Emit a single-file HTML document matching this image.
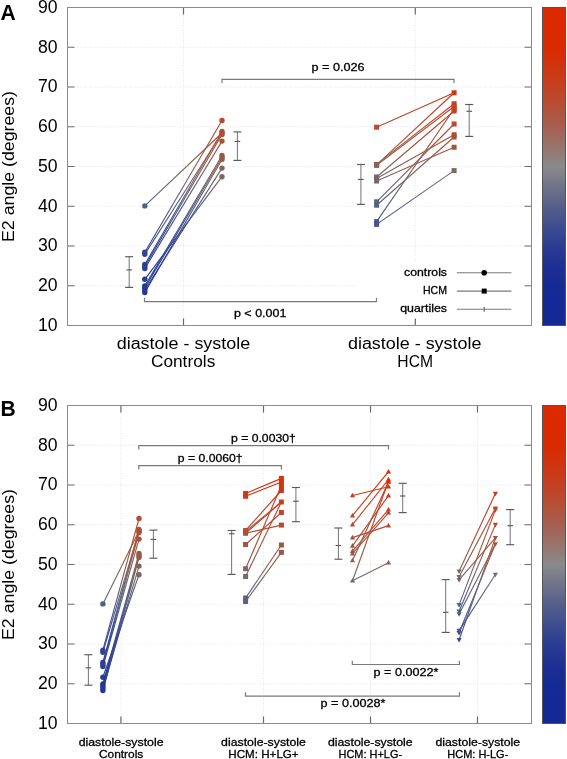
<!DOCTYPE html>
<html><head><meta charset="utf-8"><style>
html,body{margin:0;padding:0;background:#fff;}
body{width:567px;height:759px;overflow:hidden;}
svg{display:block;font-family:"Liberation Sans",sans-serif;}
.sm{stroke:#000;stroke-width:0.3px;paint-order:stroke;}
.wrap{will-change:transform;}
</style></head><body>
<div class="wrap"><svg width="567" height="759" viewBox="0 0 567 759">
<defs><linearGradient id="cb" x1="0" y1="0" x2="0" y2="1"><stop offset="0.000" stop-color="#dc2a00"/><stop offset="0.025" stop-color="#dc2a00"/><stop offset="0.050" stop-color="#db2a00"/><stop offset="0.075" stop-color="#db2a00"/><stop offset="0.100" stop-color="#da2a00"/><stop offset="0.125" stop-color="#da2a00"/><stop offset="0.150" stop-color="#d62e07"/><stop offset="0.175" stop-color="#d1330d"/><stop offset="0.200" stop-color="#cd3714"/><stop offset="0.225" stop-color="#c83c1c"/><stop offset="0.250" stop-color="#c34123"/><stop offset="0.275" stop-color="#bd472b"/><stop offset="0.300" stop-color="#b74d33"/><stop offset="0.325" stop-color="#b1533c"/><stop offset="0.350" stop-color="#ab5946"/><stop offset="0.375" stop-color="#a55f50"/><stop offset="0.400" stop-color="#a0675b"/><stop offset="0.425" stop-color="#9b7066"/><stop offset="0.450" stop-color="#957872"/><stop offset="0.475" stop-color="#90817e"/><stop offset="0.500" stop-color="#8a8a8a"/><stop offset="0.525" stop-color="#80818a"/><stop offset="0.550" stop-color="#75788a"/><stop offset="0.575" stop-color="#6b708a"/><stop offset="0.600" stop-color="#60678a"/><stop offset="0.625" stop-color="#555f8a"/><stop offset="0.650" stop-color="#4c588d"/><stop offset="0.675" stop-color="#435190"/><stop offset="0.700" stop-color="#3a4a91"/><stop offset="0.725" stop-color="#334392"/><stop offset="0.750" stop-color="#2c3c93"/><stop offset="0.775" stop-color="#263793"/><stop offset="0.800" stop-color="#213294"/><stop offset="0.825" stop-color="#1c2e94"/><stop offset="0.850" stop-color="#192c95"/><stop offset="0.875" stop-color="#162a96"/><stop offset="0.900" stop-color="#162a96"/><stop offset="0.925" stop-color="#152996"/><stop offset="0.950" stop-color="#152996"/><stop offset="0.975" stop-color="#142896"/><stop offset="1.000" stop-color="#142896"/></linearGradient><linearGradient id="g1" gradientUnits="userSpaceOnUse" x1="144.80" y1="205.90" x2="222.00" y2="133.00"><stop offset="0.000" stop-color="#585f80"/><stop offset="0.167" stop-color="#656578"/><stop offset="0.333" stop-color="#73686f"/><stop offset="0.500" stop-color="#85645f"/><stop offset="0.667" stop-color="#955a4c"/><stop offset="0.833" stop-color="#a3533f"/><stop offset="1.000" stop-color="#b04e37"/></linearGradient><linearGradient id="g2" gradientUnits="userSpaceOnUse" x1="144.80" y1="252.20" x2="222.00" y2="120.50"><stop offset="0.000" stop-color="#354492"/><stop offset="0.167" stop-color="#44508c"/><stop offset="0.333" stop-color="#565e81"/><stop offset="0.500" stop-color="#6c6873"/><stop offset="0.667" stop-color="#8c6057"/><stop offset="0.833" stop-color="#a6523c"/><stop offset="1.000" stop-color="#ba4830"/></linearGradient><linearGradient id="g3" gradientUnits="userSpaceOnUse" x1="144.80" y1="254.20" x2="222.00" y2="133.00"><stop offset="0.000" stop-color="#344392"/><stop offset="0.167" stop-color="#414e8d"/><stop offset="0.333" stop-color="#525a84"/><stop offset="0.500" stop-color="#656578"/><stop offset="0.667" stop-color="#7f6665"/><stop offset="0.833" stop-color="#9a5747"/><stop offset="1.000" stop-color="#b04e37"/></linearGradient><linearGradient id="g4" gradientUnits="userSpaceOnUse" x1="144.80" y1="264.50" x2="222.00" y2="131.50"><stop offset="0.000" stop-color="#2f3f94"/><stop offset="0.167" stop-color="#3b4890"/><stop offset="0.333" stop-color="#4c5687"/><stop offset="0.500" stop-color="#60637b"/><stop offset="0.667" stop-color="#7b6869"/><stop offset="0.833" stop-color="#995847"/><stop offset="1.000" stop-color="#b14d36"/></linearGradient><linearGradient id="g5" gradientUnits="userSpaceOnUse" x1="144.80" y1="266.50" x2="222.00" y2="134.50"><stop offset="0.000" stop-color="#2e3f94"/><stop offset="0.167" stop-color="#394791"/><stop offset="0.333" stop-color="#4a5588"/><stop offset="0.500" stop-color="#5e627c"/><stop offset="0.667" stop-color="#77686c"/><stop offset="0.833" stop-color="#965a4b"/><stop offset="1.000" stop-color="#ae4e38"/></linearGradient><linearGradient id="g6" gradientUnits="userSpaceOnUse" x1="144.80" y1="268.50" x2="222.00" y2="141.10"><stop offset="0.000" stop-color="#2d3e94"/><stop offset="0.167" stop-color="#374691"/><stop offset="0.333" stop-color="#47538a"/><stop offset="0.500" stop-color="#59607f"/><stop offset="0.667" stop-color="#706870"/><stop offset="0.833" stop-color="#8f5f54"/><stop offset="1.000" stop-color="#a8513b"/></linearGradient><linearGradient id="g7" gradientUnits="userSpaceOnUse" x1="144.80" y1="279.30" x2="222.00" y2="176.70"><stop offset="0.000" stop-color="#293a95"/><stop offset="0.167" stop-color="#304093"/><stop offset="0.333" stop-color="#394791"/><stop offset="0.500" stop-color="#46518b"/><stop offset="0.667" stop-color="#545c82"/><stop offset="0.833" stop-color="#656578"/><stop offset="1.000" stop-color="#7a686a"/></linearGradient><linearGradient id="g8" gradientUnits="userSpaceOnUse" x1="144.80" y1="286.00" x2="222.00" y2="155.50"><stop offset="0.000" stop-color="#263896"/><stop offset="0.167" stop-color="#2f4094"/><stop offset="0.333" stop-color="#3b4890"/><stop offset="0.500" stop-color="#4c5687"/><stop offset="0.667" stop-color="#5f627b"/><stop offset="0.833" stop-color="#79686b"/><stop offset="1.000" stop-color="#975949"/></linearGradient><linearGradient id="g9" gradientUnits="userSpaceOnUse" x1="144.80" y1="288.00" x2="222.00" y2="157.50"><stop offset="0.000" stop-color="#263896"/><stop offset="0.167" stop-color="#2e3f94"/><stop offset="0.333" stop-color="#394791"/><stop offset="0.500" stop-color="#4a5588"/><stop offset="0.667" stop-color="#5d617d"/><stop offset="0.833" stop-color="#76686d"/><stop offset="1.000" stop-color="#955a4c"/></linearGradient><linearGradient id="g10" gradientUnits="userSpaceOnUse" x1="144.80" y1="290.00" x2="222.00" y2="168.10"><stop offset="0.000" stop-color="#263896"/><stop offset="0.167" stop-color="#2c3e94"/><stop offset="0.333" stop-color="#364592"/><stop offset="0.500" stop-color="#45518b"/><stop offset="0.667" stop-color="#565d81"/><stop offset="0.833" stop-color="#6a6774"/><stop offset="1.000" stop-color="#87635d"/></linearGradient><linearGradient id="g11" gradientUnits="userSpaceOnUse" x1="144.80" y1="292.50" x2="222.00" y2="159.50"><stop offset="0.000" stop-color="#263896"/><stop offset="0.167" stop-color="#2c3d94"/><stop offset="0.333" stop-color="#374591"/><stop offset="0.500" stop-color="#47538a"/><stop offset="0.667" stop-color="#5a607e"/><stop offset="0.833" stop-color="#73686f"/><stop offset="1.000" stop-color="#925c4f"/></linearGradient><linearGradient id="g12" gradientUnits="userSpaceOnUse" x1="376.60" y1="127.20" x2="454.10" y2="92.75"><stop offset="0.000" stop-color="#b64b34"/><stop offset="0.167" stop-color="#ba4830"/><stop offset="0.333" stop-color="#be452c"/><stop offset="0.500" stop-color="#c24228"/><stop offset="0.667" stop-color="#c63e24"/><stop offset="0.833" stop-color="#ca3b1e"/><stop offset="1.000" stop-color="#ce3719"/></linearGradient><linearGradient id="g13" gradientUnits="userSpaceOnUse" x1="376.60" y1="164.90" x2="454.10" y2="92.75"><stop offset="0.000" stop-color="#8c6158"/><stop offset="0.167" stop-color="#9a5746"/><stop offset="0.333" stop-color="#a8513b"/><stop offset="0.500" stop-color="#b44c35"/><stop offset="0.667" stop-color="#bd452d"/><stop offset="0.833" stop-color="#c53f24"/><stop offset="1.000" stop-color="#ce3719"/></linearGradient><linearGradient id="g14" gradientUnits="userSpaceOnUse" x1="376.60" y1="164.40" x2="454.10" y2="103.75"><stop offset="0.000" stop-color="#8c6057"/><stop offset="0.167" stop-color="#985848"/><stop offset="0.333" stop-color="#a4533e"/><stop offset="0.500" stop-color="#af4e38"/><stop offset="0.667" stop-color="#b84932"/><stop offset="0.833" stop-color="#bf442b"/><stop offset="1.000" stop-color="#c63e23"/></linearGradient><linearGradient id="g15" gradientUnits="userSpaceOnUse" x1="376.60" y1="165.40" x2="454.10" y2="106.50"><stop offset="0.000" stop-color="#8b6158"/><stop offset="0.167" stop-color="#97594a"/><stop offset="0.333" stop-color="#a2543f"/><stop offset="0.500" stop-color="#ad4f39"/><stop offset="0.667" stop-color="#b64b34"/><stop offset="0.833" stop-color="#bd452d"/><stop offset="1.000" stop-color="#c44026"/></linearGradient><linearGradient id="g16" gradientUnits="userSpaceOnUse" x1="376.60" y1="177.00" x2="454.10" y2="111.00"><stop offset="0.000" stop-color="#79686b"/><stop offset="0.167" stop-color="#8b6259"/><stop offset="0.333" stop-color="#985849"/><stop offset="0.500" stop-color="#a4533d"/><stop offset="0.667" stop-color="#b04e37"/><stop offset="0.833" stop-color="#b94831"/><stop offset="1.000" stop-color="#c14229"/></linearGradient><linearGradient id="g17" gradientUnits="userSpaceOnUse" x1="376.60" y1="178.50" x2="454.10" y2="134.75"><stop offset="0.000" stop-color="#77686c"/><stop offset="0.167" stop-color="#826562"/><stop offset="0.333" stop-color="#8d6056"/><stop offset="0.500" stop-color="#965a4b"/><stop offset="0.667" stop-color="#9e5543"/><stop offset="0.833" stop-color="#a7523c"/><stop offset="1.000" stop-color="#ae4f38"/></linearGradient><linearGradient id="g18" gradientUnits="userSpaceOnUse" x1="376.60" y1="181.00" x2="454.10" y2="147.25"><stop offset="0.000" stop-color="#74686e"/><stop offset="0.167" stop-color="#7c6768"/><stop offset="0.333" stop-color="#85645f"/><stop offset="0.500" stop-color="#8d6056"/><stop offset="0.667" stop-color="#935b4e"/><stop offset="0.833" stop-color="#9a5746"/><stop offset="1.000" stop-color="#a15441"/></linearGradient><linearGradient id="g19" gradientUnits="userSpaceOnUse" x1="376.60" y1="201.80" x2="454.10" y2="124.00"><stop offset="0.000" stop-color="#5c617d"/><stop offset="0.167" stop-color="#6a6775"/><stop offset="0.333" stop-color="#7b6869"/><stop offset="0.500" stop-color="#8e5f55"/><stop offset="0.667" stop-color="#9d5643"/><stop offset="0.833" stop-color="#ac4f39"/><stop offset="1.000" stop-color="#b84932"/></linearGradient><linearGradient id="g20" gradientUnits="userSpaceOnUse" x1="376.60" y1="205.20" x2="454.10" y2="137.00"><stop offset="0.000" stop-color="#595f7f"/><stop offset="0.167" stop-color="#646578"/><stop offset="0.333" stop-color="#72686f"/><stop offset="0.500" stop-color="#836561"/><stop offset="0.667" stop-color="#925c50"/><stop offset="0.833" stop-color="#9f5542"/><stop offset="1.000" stop-color="#ac5039"/></linearGradient><linearGradient id="g21" gradientUnits="userSpaceOnUse" x1="376.60" y1="221.60" x2="454.10" y2="109.00"><stop offset="0.000" stop-color="#4b5588"/><stop offset="0.167" stop-color="#5b617e"/><stop offset="0.333" stop-color="#6f6871"/><stop offset="0.500" stop-color="#8b6158"/><stop offset="0.667" stop-color="#a15440"/><stop offset="0.833" stop-color="#b54b35"/><stop offset="1.000" stop-color="#c34127"/></linearGradient><linearGradient id="g22" gradientUnits="userSpaceOnUse" x1="376.60" y1="224.40" x2="454.10" y2="170.60"><stop offset="0.000" stop-color="#495489"/><stop offset="0.167" stop-color="#505985"/><stop offset="0.333" stop-color="#585f80"/><stop offset="0.500" stop-color="#61637a"/><stop offset="0.667" stop-color="#6a6774"/><stop offset="0.833" stop-color="#76686d"/><stop offset="1.000" stop-color="#836461"/></linearGradient><linearGradient id="g23" gradientUnits="userSpaceOnUse" x1="102.90" y1="603.90" x2="139.00" y2="531.00"><stop offset="0.000" stop-color="#585f80"/><stop offset="0.167" stop-color="#656578"/><stop offset="0.333" stop-color="#73686f"/><stop offset="0.500" stop-color="#85645f"/><stop offset="0.667" stop-color="#955a4c"/><stop offset="0.833" stop-color="#a3533f"/><stop offset="1.000" stop-color="#b04e37"/></linearGradient><linearGradient id="g24" gradientUnits="userSpaceOnUse" x1="102.90" y1="650.20" x2="139.00" y2="518.50"><stop offset="0.000" stop-color="#354492"/><stop offset="0.167" stop-color="#44508c"/><stop offset="0.333" stop-color="#565e81"/><stop offset="0.500" stop-color="#6c6873"/><stop offset="0.667" stop-color="#8c6057"/><stop offset="0.833" stop-color="#a6523c"/><stop offset="1.000" stop-color="#ba4830"/></linearGradient><linearGradient id="g25" gradientUnits="userSpaceOnUse" x1="102.90" y1="652.20" x2="139.00" y2="531.00"><stop offset="0.000" stop-color="#344392"/><stop offset="0.167" stop-color="#414e8d"/><stop offset="0.333" stop-color="#525a84"/><stop offset="0.500" stop-color="#656578"/><stop offset="0.667" stop-color="#7f6665"/><stop offset="0.833" stop-color="#9a5747"/><stop offset="1.000" stop-color="#b04e37"/></linearGradient><linearGradient id="g26" gradientUnits="userSpaceOnUse" x1="102.90" y1="662.50" x2="139.00" y2="529.50"><stop offset="0.000" stop-color="#2f3f94"/><stop offset="0.167" stop-color="#3b4890"/><stop offset="0.333" stop-color="#4c5687"/><stop offset="0.500" stop-color="#60637b"/><stop offset="0.667" stop-color="#7b6869"/><stop offset="0.833" stop-color="#995847"/><stop offset="1.000" stop-color="#b14d36"/></linearGradient><linearGradient id="g27" gradientUnits="userSpaceOnUse" x1="102.90" y1="664.50" x2="139.00" y2="532.50"><stop offset="0.000" stop-color="#2e3f94"/><stop offset="0.167" stop-color="#394791"/><stop offset="0.333" stop-color="#4a5588"/><stop offset="0.500" stop-color="#5e627c"/><stop offset="0.667" stop-color="#77686c"/><stop offset="0.833" stop-color="#965a4b"/><stop offset="1.000" stop-color="#ae4e38"/></linearGradient><linearGradient id="g28" gradientUnits="userSpaceOnUse" x1="102.90" y1="666.50" x2="139.00" y2="539.10"><stop offset="0.000" stop-color="#2d3e94"/><stop offset="0.167" stop-color="#374691"/><stop offset="0.333" stop-color="#47538a"/><stop offset="0.500" stop-color="#59607f"/><stop offset="0.667" stop-color="#706870"/><stop offset="0.833" stop-color="#8f5f54"/><stop offset="1.000" stop-color="#a8513b"/></linearGradient><linearGradient id="g29" gradientUnits="userSpaceOnUse" x1="102.90" y1="677.30" x2="139.00" y2="574.70"><stop offset="0.000" stop-color="#293a95"/><stop offset="0.167" stop-color="#304093"/><stop offset="0.333" stop-color="#394791"/><stop offset="0.500" stop-color="#46518b"/><stop offset="0.667" stop-color="#545c82"/><stop offset="0.833" stop-color="#656578"/><stop offset="1.000" stop-color="#7a686a"/></linearGradient><linearGradient id="g30" gradientUnits="userSpaceOnUse" x1="102.90" y1="684.00" x2="139.00" y2="553.50"><stop offset="0.000" stop-color="#263896"/><stop offset="0.167" stop-color="#2f4094"/><stop offset="0.333" stop-color="#3b4890"/><stop offset="0.500" stop-color="#4c5687"/><stop offset="0.667" stop-color="#5f627b"/><stop offset="0.833" stop-color="#79686b"/><stop offset="1.000" stop-color="#975949"/></linearGradient><linearGradient id="g31" gradientUnits="userSpaceOnUse" x1="102.90" y1="686.00" x2="139.00" y2="555.50"><stop offset="0.000" stop-color="#263896"/><stop offset="0.167" stop-color="#2e3f94"/><stop offset="0.333" stop-color="#394791"/><stop offset="0.500" stop-color="#4a5588"/><stop offset="0.667" stop-color="#5d617d"/><stop offset="0.833" stop-color="#76686d"/><stop offset="1.000" stop-color="#955a4c"/></linearGradient><linearGradient id="g32" gradientUnits="userSpaceOnUse" x1="102.90" y1="688.00" x2="139.00" y2="566.10"><stop offset="0.000" stop-color="#263896"/><stop offset="0.167" stop-color="#2c3e94"/><stop offset="0.333" stop-color="#364592"/><stop offset="0.500" stop-color="#45518b"/><stop offset="0.667" stop-color="#565d81"/><stop offset="0.833" stop-color="#6a6774"/><stop offset="1.000" stop-color="#87635d"/></linearGradient><linearGradient id="g33" gradientUnits="userSpaceOnUse" x1="102.90" y1="690.50" x2="139.00" y2="557.50"><stop offset="0.000" stop-color="#263896"/><stop offset="0.167" stop-color="#2c3d94"/><stop offset="0.333" stop-color="#374591"/><stop offset="0.500" stop-color="#47538a"/><stop offset="0.667" stop-color="#5a607e"/><stop offset="0.833" stop-color="#73686f"/><stop offset="1.000" stop-color="#925c4f"/></linearGradient><linearGradient id="g34" gradientUnits="userSpaceOnUse" x1="245.60" y1="493.50" x2="281.40" y2="478.40"><stop offset="0.000" stop-color="#cc391c"/><stop offset="0.167" stop-color="#ce3819"/><stop offset="0.333" stop-color="#d03617"/><stop offset="0.500" stop-color="#d13515"/><stop offset="0.667" stop-color="#d33313"/><stop offset="0.833" stop-color="#d43211"/><stop offset="1.000" stop-color="#d5310f"/></linearGradient><linearGradient id="g35" gradientUnits="userSpaceOnUse" x1="245.60" y1="496.30" x2="281.40" y2="482.00"><stop offset="0.000" stop-color="#ca3b1e"/><stop offset="0.167" stop-color="#cc391c"/><stop offset="0.333" stop-color="#cd381a"/><stop offset="0.500" stop-color="#cf3718"/><stop offset="0.667" stop-color="#d13516"/><stop offset="0.833" stop-color="#d23414"/><stop offset="1.000" stop-color="#d33312"/></linearGradient><linearGradient id="g36" gradientUnits="userSpaceOnUse" x1="245.60" y1="530.50" x2="281.40" y2="490.50"><stop offset="0.000" stop-color="#b04e37"/><stop offset="0.167" stop-color="#b74a33"/><stop offset="0.333" stop-color="#bb472f"/><stop offset="0.500" stop-color="#c0432a"/><stop offset="0.667" stop-color="#c53f25"/><stop offset="0.833" stop-color="#c93b1f"/><stop offset="1.000" stop-color="#ce3719"/></linearGradient><linearGradient id="g37" gradientUnits="userSpaceOnUse" x1="245.60" y1="531.50" x2="281.40" y2="502.00"><stop offset="0.000" stop-color="#af4e37"/><stop offset="0.167" stop-color="#b44c35"/><stop offset="0.333" stop-color="#b84932"/><stop offset="0.500" stop-color="#bc472e"/><stop offset="0.667" stop-color="#bf442b"/><stop offset="0.833" stop-color="#c34127"/><stop offset="1.000" stop-color="#c63e23"/></linearGradient><linearGradient id="g38" gradientUnits="userSpaceOnUse" x1="245.60" y1="533.30" x2="281.40" y2="502.00"><stop offset="0.000" stop-color="#ad4f38"/><stop offset="0.167" stop-color="#b34c36"/><stop offset="0.333" stop-color="#b74a33"/><stop offset="0.500" stop-color="#bb472f"/><stop offset="0.667" stop-color="#bf442b"/><stop offset="0.833" stop-color="#c24128"/><stop offset="1.000" stop-color="#c63e23"/></linearGradient><linearGradient id="g39" gradientUnits="userSpaceOnUse" x1="245.60" y1="533.30" x2="281.40" y2="525.10"><stop offset="0.000" stop-color="#ad4f38"/><stop offset="0.167" stop-color="#af4e38"/><stop offset="0.333" stop-color="#b04e37"/><stop offset="0.500" stop-color="#b24d36"/><stop offset="0.667" stop-color="#b34c36"/><stop offset="0.833" stop-color="#b44c35"/><stop offset="1.000" stop-color="#b64b34"/></linearGradient><linearGradient id="g40" gradientUnits="userSpaceOnUse" x1="245.60" y1="544.50" x2="281.40" y2="512.50"><stop offset="0.000" stop-color="#a15440"/><stop offset="0.167" stop-color="#a7513b"/><stop offset="0.333" stop-color="#ad4f39"/><stop offset="0.500" stop-color="#b24d36"/><stop offset="0.667" stop-color="#b74a33"/><stop offset="0.833" stop-color="#bb472f"/><stop offset="1.000" stop-color="#bf442b"/></linearGradient><linearGradient id="g41" gradientUnits="userSpaceOnUse" x1="245.60" y1="568.70" x2="281.40" y2="485.50"><stop offset="0.000" stop-color="#836561"/><stop offset="0.167" stop-color="#955a4b"/><stop offset="0.333" stop-color="#a6523c"/><stop offset="0.500" stop-color="#b44c35"/><stop offset="0.667" stop-color="#be452c"/><stop offset="0.833" stop-color="#c83d21"/><stop offset="1.000" stop-color="#d23414"/></linearGradient><linearGradient id="g42" gradientUnits="userSpaceOnUse" x1="245.60" y1="576.50" x2="281.40" y2="502.00"><stop offset="0.000" stop-color="#77686c"/><stop offset="0.167" stop-color="#8a6259"/><stop offset="0.333" stop-color="#995847"/><stop offset="0.500" stop-color="#a7513b"/><stop offset="0.667" stop-color="#b44c35"/><stop offset="0.833" stop-color="#bd452d"/><stop offset="1.000" stop-color="#c63e23"/></linearGradient><linearGradient id="g43" gradientUnits="userSpaceOnUse" x1="245.60" y1="598.00" x2="281.40" y2="545.00"><stop offset="0.000" stop-color="#5e627c"/><stop offset="0.167" stop-color="#676676"/><stop offset="0.333" stop-color="#72686f"/><stop offset="0.500" stop-color="#7f6665"/><stop offset="0.667" stop-color="#8c6057"/><stop offset="0.833" stop-color="#97594a"/><stop offset="1.000" stop-color="#a15440"/></linearGradient><linearGradient id="g44" gradientUnits="userSpaceOnUse" x1="245.60" y1="601.50" x2="281.40" y2="552.40"><stop offset="0.000" stop-color="#5b607e"/><stop offset="0.167" stop-color="#636479"/><stop offset="0.333" stop-color="#6b6873"/><stop offset="0.500" stop-color="#76686c"/><stop offset="0.667" stop-color="#836561"/><stop offset="0.833" stop-color="#8f5f54"/><stop offset="1.000" stop-color="#985848"/></linearGradient><linearGradient id="g45" gradientUnits="userSpaceOnUse" x1="352.50" y1="495.50" x2="388.50" y2="486.80"><stop offset="0.000" stop-color="#cb3a1e"/><stop offset="0.167" stop-color="#cc391c"/><stop offset="0.333" stop-color="#cd391b"/><stop offset="0.500" stop-color="#ce381a"/><stop offset="0.667" stop-color="#cf3718"/><stop offset="0.833" stop-color="#d03617"/><stop offset="1.000" stop-color="#d13516"/></linearGradient><linearGradient id="g46" gradientUnits="userSpaceOnUse" x1="352.50" y1="515.60" x2="388.50" y2="471.70"><stop offset="0.000" stop-color="#bc462e"/><stop offset="0.167" stop-color="#c24228"/><stop offset="0.333" stop-color="#c73e22"/><stop offset="0.500" stop-color="#cc391c"/><stop offset="0.667" stop-color="#d13515"/><stop offset="0.833" stop-color="#d4320f"/><stop offset="1.000" stop-color="#d72f0a"/></linearGradient><linearGradient id="g47" gradientUnits="userSpaceOnUse" x1="352.50" y1="524.60" x2="388.50" y2="479.50"><stop offset="0.000" stop-color="#b64b34"/><stop offset="0.167" stop-color="#bb472f"/><stop offset="0.333" stop-color="#c14329"/><stop offset="0.500" stop-color="#c63e23"/><stop offset="0.667" stop-color="#cb3a1d"/><stop offset="0.833" stop-color="#d13516"/><stop offset="1.000" stop-color="#d43210"/></linearGradient><linearGradient id="g48" gradientUnits="userSpaceOnUse" x1="352.50" y1="537.60" x2="388.50" y2="525.60"><stop offset="0.000" stop-color="#a9513a"/><stop offset="0.167" stop-color="#ab5039"/><stop offset="0.333" stop-color="#ad4f38"/><stop offset="0.500" stop-color="#af4e37"/><stop offset="0.667" stop-color="#b14d36"/><stop offset="0.833" stop-color="#b34c35"/><stop offset="1.000" stop-color="#b54b34"/></linearGradient><linearGradient id="g49" gradientUnits="userSpaceOnUse" x1="352.50" y1="545.90" x2="388.50" y2="495.60"><stop offset="0.000" stop-color="#a05541"/><stop offset="0.167" stop-color="#a9513a"/><stop offset="0.333" stop-color="#b24d36"/><stop offset="0.500" stop-color="#b94931"/><stop offset="0.667" stop-color="#bf442b"/><stop offset="0.833" stop-color="#c53f25"/><stop offset="1.000" stop-color="#cb3a1e"/></linearGradient><linearGradient id="g50" gradientUnits="userSpaceOnUse" x1="352.50" y1="551.10" x2="388.50" y2="509.60"><stop offset="0.000" stop-color="#9a5747"/><stop offset="0.167" stop-color="#a25440"/><stop offset="0.333" stop-color="#a9513a"/><stop offset="0.500" stop-color="#b04d37"/><stop offset="0.667" stop-color="#b74a33"/><stop offset="0.833" stop-color="#bc462e"/><stop offset="1.000" stop-color="#c14329"/></linearGradient><linearGradient id="g51" gradientUnits="userSpaceOnUse" x1="352.50" y1="553.60" x2="388.50" y2="512.80"><stop offset="0.000" stop-color="#97594a"/><stop offset="0.167" stop-color="#9f5542"/><stop offset="0.333" stop-color="#a7523c"/><stop offset="0.500" stop-color="#ad4f38"/><stop offset="0.667" stop-color="#b44c35"/><stop offset="0.833" stop-color="#ba4830"/><stop offset="1.000" stop-color="#be442c"/></linearGradient><linearGradient id="g52" gradientUnits="userSpaceOnUse" x1="352.50" y1="560.50" x2="388.50" y2="482.00"><stop offset="0.000" stop-color="#8f5f54"/><stop offset="0.167" stop-color="#9e5543"/><stop offset="0.333" stop-color="#ac4f39"/><stop offset="0.500" stop-color="#b84932"/><stop offset="0.667" stop-color="#c24228"/><stop offset="0.833" stop-color="#cb3a1d"/><stop offset="1.000" stop-color="#d33312"/></linearGradient><linearGradient id="g53" gradientUnits="userSpaceOnUse" x1="352.50" y1="580.70" x2="388.50" y2="481.00"><stop offset="0.000" stop-color="#716870"/><stop offset="0.167" stop-color="#8a6259"/><stop offset="0.333" stop-color="#9e5543"/><stop offset="0.500" stop-color="#b04e37"/><stop offset="0.667" stop-color="#bd452d"/><stop offset="0.833" stop-color="#c93c1f"/><stop offset="1.000" stop-color="#d43211"/></linearGradient><linearGradient id="g54" gradientUnits="userSpaceOnUse" x1="352.50" y1="580.70" x2="388.50" y2="562.70"><stop offset="0.000" stop-color="#716870"/><stop offset="0.167" stop-color="#75686d"/><stop offset="0.333" stop-color="#7a686a"/><stop offset="0.500" stop-color="#7e6666"/><stop offset="0.667" stop-color="#836561"/><stop offset="0.833" stop-color="#88635c"/><stop offset="1.000" stop-color="#8c6057"/></linearGradient><linearGradient id="g55" gradientUnits="userSpaceOnUse" x1="459.10" y1="571.20" x2="495.40" y2="493.50"><stop offset="0.000" stop-color="#7f6665"/><stop offset="0.167" stop-color="#915d51"/><stop offset="0.333" stop-color="#a15441"/><stop offset="0.500" stop-color="#ae4e38"/><stop offset="0.667" stop-color="#ba4830"/><stop offset="0.833" stop-color="#c34127"/><stop offset="1.000" stop-color="#cc391c"/></linearGradient><linearGradient id="g56" gradientUnits="userSpaceOnUse" x1="459.10" y1="576.80" x2="495.40" y2="508.30"><stop offset="0.000" stop-color="#77686c"/><stop offset="0.167" stop-color="#89635b"/><stop offset="0.333" stop-color="#96594a"/><stop offset="0.500" stop-color="#a4533e"/><stop offset="0.667" stop-color="#b04e37"/><stop offset="0.833" stop-color="#ba4830"/><stop offset="1.000" stop-color="#c24228"/></linearGradient><linearGradient id="g57" gradientUnits="userSpaceOnUse" x1="459.10" y1="579.90" x2="495.40" y2="537.90"><stop offset="0.000" stop-color="#72686f"/><stop offset="0.167" stop-color="#7c6768"/><stop offset="0.333" stop-color="#88635c"/><stop offset="0.500" stop-color="#915d52"/><stop offset="0.667" stop-color="#995847"/><stop offset="0.833" stop-color="#a15440"/><stop offset="1.000" stop-color="#a9513b"/></linearGradient><linearGradient id="g58" gradientUnits="userSpaceOnUse" x1="459.10" y1="604.90" x2="495.40" y2="509.90"><stop offset="0.000" stop-color="#575f80"/><stop offset="0.167" stop-color="#676676"/><stop offset="0.333" stop-color="#7c6768"/><stop offset="0.500" stop-color="#925c4f"/><stop offset="0.667" stop-color="#a5523d"/><stop offset="0.833" stop-color="#b54b34"/><stop offset="1.000" stop-color="#c0432a"/></linearGradient><linearGradient id="g59" gradientUnits="userSpaceOnUse" x1="459.10" y1="611.20" x2="495.40" y2="524.60"><stop offset="0.000" stop-color="#525b83"/><stop offset="0.167" stop-color="#60627b"/><stop offset="0.333" stop-color="#6f6871"/><stop offset="0.500" stop-color="#85645f"/><stop offset="0.667" stop-color="#975949"/><stop offset="0.833" stop-color="#a8513b"/><stop offset="1.000" stop-color="#b64b34"/></linearGradient><linearGradient id="g60" gradientUnits="userSpaceOnUse" x1="459.10" y1="614.00" x2="495.40" y2="544.00"><stop offset="0.000" stop-color="#505985"/><stop offset="0.167" stop-color="#5a607f"/><stop offset="0.333" stop-color="#666577"/><stop offset="0.500" stop-color="#74686e"/><stop offset="0.667" stop-color="#85645f"/><stop offset="0.833" stop-color="#945b4d"/><stop offset="1.000" stop-color="#a2543f"/></linearGradient><linearGradient id="g61" gradientUnits="userSpaceOnUse" x1="459.10" y1="630.60" x2="495.40" y2="574.50"><stop offset="0.000" stop-color="#424e8d"/><stop offset="0.167" stop-color="#4a5489"/><stop offset="0.333" stop-color="#525a84"/><stop offset="0.500" stop-color="#5a607f"/><stop offset="0.667" stop-color="#636479"/><stop offset="0.833" stop-color="#6d6873"/><stop offset="1.000" stop-color="#7a686a"/></linearGradient><linearGradient id="g62" gradientUnits="userSpaceOnUse" x1="459.10" y1="632.80" x2="495.40" y2="544.00"><stop offset="0.000" stop-color="#404d8d"/><stop offset="0.167" stop-color="#4c5687"/><stop offset="0.333" stop-color="#595f7f"/><stop offset="0.500" stop-color="#686676"/><stop offset="0.667" stop-color="#7b6769"/><stop offset="0.833" stop-color="#915d51"/><stop offset="1.000" stop-color="#a2543f"/></linearGradient><linearGradient id="g63" gradientUnits="userSpaceOnUse" x1="459.10" y1="639.80" x2="495.40" y2="537.90"><stop offset="0.000" stop-color="#3b4990"/><stop offset="0.167" stop-color="#485389"/><stop offset="0.333" stop-color="#575e81"/><stop offset="0.500" stop-color="#676676"/><stop offset="0.667" stop-color="#7e6666"/><stop offset="0.833" stop-color="#955a4b"/><stop offset="1.000" stop-color="#a9513b"/></linearGradient></defs>
<rect width="567" height="759" fill="#fff"/>
<line x1="67.50" y1="285.75" x2="531.50" y2="285.75" stroke="#e0e0e0" stroke-width="0.8" stroke-dasharray="1,1.5"/>
<line x1="67.50" y1="246.00" x2="531.50" y2="246.00" stroke="#e0e0e0" stroke-width="0.8" stroke-dasharray="1,1.5"/>
<line x1="67.50" y1="206.25" x2="531.50" y2="206.25" stroke="#e0e0e0" stroke-width="0.8" stroke-dasharray="1,1.5"/>
<line x1="67.50" y1="166.50" x2="531.50" y2="166.50" stroke="#e0e0e0" stroke-width="0.8" stroke-dasharray="1,1.5"/>
<line x1="67.50" y1="126.75" x2="531.50" y2="126.75" stroke="#e0e0e0" stroke-width="0.8" stroke-dasharray="1,1.5"/>
<line x1="67.50" y1="87.00" x2="531.50" y2="87.00" stroke="#e0e0e0" stroke-width="0.8" stroke-dasharray="1,1.5"/>
<line x1="67.50" y1="47.25" x2="531.50" y2="47.25" stroke="#e0e0e0" stroke-width="0.8" stroke-dasharray="1,1.5"/>
<line x1="183.50" y1="7.50" x2="183.50" y2="325.50" stroke="#e0e0e0" stroke-width="0.8" stroke-dasharray="1,1.5"/>
<line x1="415.30" y1="7.50" x2="415.30" y2="325.50" stroke="#e0e0e0" stroke-width="0.8" stroke-dasharray="1,1.5"/>
<rect x="357" y="262.7" width="174" height="55.8" fill="#fff"/>
<line x1="67.50" y1="325.50" x2="74.50" y2="325.50" stroke="#6a6a6a" stroke-width="1" />
<line x1="524.50" y1="325.50" x2="531.50" y2="325.50" stroke="#6a6a6a" stroke-width="1" />
<line x1="67.50" y1="285.75" x2="74.50" y2="285.75" stroke="#6a6a6a" stroke-width="1" />
<line x1="524.50" y1="285.75" x2="531.50" y2="285.75" stroke="#6a6a6a" stroke-width="1" />
<line x1="67.50" y1="246.00" x2="74.50" y2="246.00" stroke="#6a6a6a" stroke-width="1" />
<line x1="524.50" y1="246.00" x2="531.50" y2="246.00" stroke="#6a6a6a" stroke-width="1" />
<line x1="67.50" y1="206.25" x2="74.50" y2="206.25" stroke="#6a6a6a" stroke-width="1" />
<line x1="524.50" y1="206.25" x2="531.50" y2="206.25" stroke="#6a6a6a" stroke-width="1" />
<line x1="67.50" y1="166.50" x2="74.50" y2="166.50" stroke="#6a6a6a" stroke-width="1" />
<line x1="524.50" y1="166.50" x2="531.50" y2="166.50" stroke="#6a6a6a" stroke-width="1" />
<line x1="67.50" y1="126.75" x2="74.50" y2="126.75" stroke="#6a6a6a" stroke-width="1" />
<line x1="524.50" y1="126.75" x2="531.50" y2="126.75" stroke="#6a6a6a" stroke-width="1" />
<line x1="67.50" y1="87.00" x2="74.50" y2="87.00" stroke="#6a6a6a" stroke-width="1" />
<line x1="524.50" y1="87.00" x2="531.50" y2="87.00" stroke="#6a6a6a" stroke-width="1" />
<line x1="67.50" y1="47.25" x2="74.50" y2="47.25" stroke="#6a6a6a" stroke-width="1" />
<line x1="524.50" y1="47.25" x2="531.50" y2="47.25" stroke="#6a6a6a" stroke-width="1" />
<line x1="67.50" y1="7.50" x2="74.50" y2="7.50" stroke="#6a6a6a" stroke-width="1" />
<line x1="524.50" y1="7.50" x2="531.50" y2="7.50" stroke="#6a6a6a" stroke-width="1" />
<line x1="183.50" y1="7.50" x2="183.50" y2="14.50" stroke="#6a6a6a" stroke-width="1.2" />
<line x1="183.50" y1="318.50" x2="183.50" y2="325.50" stroke="#6a6a6a" stroke-width="1.2" />
<line x1="415.30" y1="7.50" x2="415.30" y2="14.50" stroke="#6a6a6a" stroke-width="1.2" />
<line x1="415.30" y1="318.50" x2="415.30" y2="325.50" stroke="#6a6a6a" stroke-width="1.2" />
<rect x="67.5" y="7.5" width="464.0" height="318.0" fill="none" stroke="#8c8c8c" stroke-width="1"/>
<text x="57.6" y="330.95" font-size="17.5" text-anchor="end" font-weight="normal" fill="#000" textLength="19.6" lengthAdjust="spacingAndGlyphs" >10</text>
<text x="57.6" y="291.20" font-size="17.5" text-anchor="end" font-weight="normal" fill="#000" textLength="19.6" lengthAdjust="spacingAndGlyphs" >20</text>
<text x="57.6" y="251.45" font-size="17.5" text-anchor="end" font-weight="normal" fill="#000" textLength="19.6" lengthAdjust="spacingAndGlyphs" >30</text>
<text x="57.6" y="211.70" font-size="17.5" text-anchor="end" font-weight="normal" fill="#000" textLength="19.6" lengthAdjust="spacingAndGlyphs" >40</text>
<text x="57.6" y="171.95" font-size="17.5" text-anchor="end" font-weight="normal" fill="#000" textLength="19.6" lengthAdjust="spacingAndGlyphs" >50</text>
<text x="57.6" y="132.20" font-size="17.5" text-anchor="end" font-weight="normal" fill="#000" textLength="19.6" lengthAdjust="spacingAndGlyphs" >60</text>
<text x="57.6" y="92.45" font-size="17.5" text-anchor="end" font-weight="normal" fill="#000" textLength="19.6" lengthAdjust="spacingAndGlyphs" >70</text>
<text x="57.6" y="52.70" font-size="17.5" text-anchor="end" font-weight="normal" fill="#000" textLength="19.6" lengthAdjust="spacingAndGlyphs" >80</text>
<text x="57.6" y="12.95" font-size="17.5" text-anchor="end" font-weight="normal" fill="#000" textLength="19.6" lengthAdjust="spacingAndGlyphs" >90</text>
<text x="0" y="0" font-size="16.5" text-anchor="middle" textLength="151" lengthAdjust="spacingAndGlyphs" transform="translate(14.1,166.50) rotate(-90)">E2 angle (degrees)</text>
<text x="0.6" y="19.9" font-size="22" text-anchor="start" font-weight="bold" fill="#000" textLength="15.2" lengthAdjust="spacingAndGlyphs" >A</text>
<rect x="542.5" y="7.5" width="23" height="318.0" fill="url(#cb)" stroke="#555" stroke-width="1"/>
<line x1="129.20" y1="256.70" x2="129.20" y2="287.40" stroke="#7a7a7a" stroke-width="1.05" />
<line x1="125.20" y1="256.70" x2="133.20" y2="256.70" stroke="#5a5a5a" stroke-width="1.15" />
<line x1="125.20" y1="287.40" x2="133.20" y2="287.40" stroke="#5a5a5a" stroke-width="1.15" />
<line x1="126.40" y1="269.90" x2="132.00" y2="269.90" stroke="#5a5a5a" stroke-width="1.15" />
<line x1="237.40" y1="131.90" x2="237.40" y2="160.40" stroke="#7a7a7a" stroke-width="1.05" />
<line x1="233.40" y1="131.90" x2="241.40" y2="131.90" stroke="#5a5a5a" stroke-width="1.15" />
<line x1="233.40" y1="160.40" x2="241.40" y2="160.40" stroke="#5a5a5a" stroke-width="1.15" />
<line x1="234.60" y1="141.40" x2="240.20" y2="141.40" stroke="#5a5a5a" stroke-width="1.15" />
<line x1="360.90" y1="164.50" x2="360.90" y2="204.40" stroke="#7a7a7a" stroke-width="1.05" />
<line x1="356.90" y1="164.50" x2="364.90" y2="164.50" stroke="#5a5a5a" stroke-width="1.15" />
<line x1="356.90" y1="204.40" x2="364.90" y2="204.40" stroke="#5a5a5a" stroke-width="1.15" />
<line x1="358.10" y1="179.40" x2="363.70" y2="179.40" stroke="#5a5a5a" stroke-width="1.15" />
<line x1="469.20" y1="104.50" x2="469.20" y2="136.40" stroke="#7a7a7a" stroke-width="1.05" />
<line x1="465.20" y1="104.50" x2="473.20" y2="104.50" stroke="#5a5a5a" stroke-width="1.15" />
<line x1="465.20" y1="136.40" x2="473.20" y2="136.40" stroke="#5a5a5a" stroke-width="1.15" />
<line x1="466.40" y1="111.30" x2="472.00" y2="111.30" stroke="#5a5a5a" stroke-width="1.15" />
<line x1="144.80" y1="205.90" x2="222.00" y2="133.00" stroke="url(#g1)" stroke-width="1.15"/>
<line x1="144.80" y1="252.20" x2="222.00" y2="120.50" stroke="url(#g2)" stroke-width="1.15"/>
<line x1="144.80" y1="254.20" x2="222.00" y2="133.00" stroke="url(#g3)" stroke-width="1.15"/>
<line x1="144.80" y1="264.50" x2="222.00" y2="131.50" stroke="url(#g4)" stroke-width="1.15"/>
<line x1="144.80" y1="266.50" x2="222.00" y2="134.50" stroke="url(#g5)" stroke-width="1.15"/>
<line x1="144.80" y1="268.50" x2="222.00" y2="141.10" stroke="url(#g6)" stroke-width="1.15"/>
<line x1="144.80" y1="279.30" x2="222.00" y2="176.70" stroke="url(#g7)" stroke-width="1.15"/>
<line x1="144.80" y1="286.00" x2="222.00" y2="155.50" stroke="url(#g8)" stroke-width="1.15"/>
<line x1="144.80" y1="288.00" x2="222.00" y2="157.50" stroke="url(#g9)" stroke-width="1.15"/>
<line x1="144.80" y1="290.00" x2="222.00" y2="168.10" stroke="url(#g10)" stroke-width="1.15"/>
<line x1="144.80" y1="292.50" x2="222.00" y2="159.50" stroke="url(#g11)" stroke-width="1.15"/>
<circle cx="144.80" cy="292.50" r="2.7" fill="#263896"/>
<circle cx="144.80" cy="290.00" r="2.7" fill="#263896"/>
<circle cx="144.80" cy="288.00" r="2.7" fill="#263896"/>
<circle cx="144.80" cy="286.00" r="2.7" fill="#263896"/>
<circle cx="144.80" cy="279.30" r="2.7" fill="#293a95"/>
<circle cx="144.80" cy="268.50" r="2.7" fill="#2d3e94"/>
<circle cx="144.80" cy="266.50" r="2.7" fill="#2e3f94"/>
<circle cx="144.80" cy="264.50" r="2.7" fill="#2f3f94"/>
<circle cx="144.80" cy="254.20" r="2.7" fill="#344392"/>
<circle cx="144.80" cy="252.20" r="2.7" fill="#354492"/>
<circle cx="144.80" cy="205.90" r="2.7" fill="#585f80"/>
<circle cx="222.00" cy="176.70" r="2.7" fill="#7a686a"/>
<circle cx="222.00" cy="168.10" r="2.7" fill="#87635d"/>
<circle cx="222.00" cy="159.50" r="2.7" fill="#925c4f"/>
<circle cx="222.00" cy="157.50" r="2.7" fill="#955a4c"/>
<circle cx="222.00" cy="155.50" r="2.7" fill="#975949"/>
<circle cx="222.00" cy="141.10" r="2.7" fill="#a8513b"/>
<circle cx="222.00" cy="134.50" r="2.7" fill="#ae4e38"/>
<circle cx="222.00" cy="133.00" r="2.7" fill="#b04e37"/>
<circle cx="222.00" cy="131.50" r="2.7" fill="#b14d36"/>
<circle cx="222.00" cy="120.50" r="2.7" fill="#ba4830"/>
<line x1="376.60" y1="127.20" x2="454.10" y2="92.75" stroke="url(#g12)" stroke-width="1.15"/>
<line x1="376.60" y1="164.90" x2="454.10" y2="92.75" stroke="url(#g13)" stroke-width="1.15"/>
<line x1="376.60" y1="164.40" x2="454.10" y2="103.75" stroke="url(#g14)" stroke-width="1.15"/>
<line x1="376.60" y1="165.40" x2="454.10" y2="106.50" stroke="url(#g15)" stroke-width="1.15"/>
<line x1="376.60" y1="177.00" x2="454.10" y2="111.00" stroke="url(#g16)" stroke-width="1.15"/>
<line x1="376.60" y1="178.50" x2="454.10" y2="134.75" stroke="url(#g17)" stroke-width="1.15"/>
<line x1="376.60" y1="181.00" x2="454.10" y2="147.25" stroke="url(#g18)" stroke-width="1.15"/>
<line x1="376.60" y1="201.80" x2="454.10" y2="124.00" stroke="url(#g19)" stroke-width="1.15"/>
<line x1="376.60" y1="205.20" x2="454.10" y2="137.00" stroke="url(#g20)" stroke-width="1.15"/>
<line x1="376.60" y1="221.60" x2="454.10" y2="109.00" stroke="url(#g21)" stroke-width="1.15"/>
<line x1="376.60" y1="224.40" x2="454.10" y2="170.60" stroke="url(#g22)" stroke-width="1.15"/>
<rect x="374.10" y="221.90" width="5.0" height="5.0" fill="#495489"/>
<rect x="374.10" y="219.10" width="5.0" height="5.0" fill="#4b5588"/>
<rect x="374.10" y="202.70" width="5.0" height="5.0" fill="#595f7f"/>
<rect x="374.10" y="199.30" width="5.0" height="5.0" fill="#5c617d"/>
<rect x="374.10" y="178.50" width="5.0" height="5.0" fill="#74686e"/>
<rect x="374.10" y="176.00" width="5.0" height="5.0" fill="#77686c"/>
<rect x="374.10" y="174.50" width="5.0" height="5.0" fill="#79686b"/>
<rect x="451.60" y="168.10" width="5.0" height="5.0" fill="#836461"/>
<rect x="374.10" y="162.90" width="5.0" height="5.0" fill="#8b6158"/>
<rect x="374.10" y="162.40" width="5.0" height="5.0" fill="#8c6158"/>
<rect x="374.10" y="161.90" width="5.0" height="5.0" fill="#8c6057"/>
<rect x="451.60" y="144.75" width="5.0" height="5.0" fill="#a15441"/>
<rect x="451.60" y="134.50" width="5.0" height="5.0" fill="#ac5039"/>
<rect x="451.60" y="132.25" width="5.0" height="5.0" fill="#ae4f38"/>
<rect x="374.10" y="124.70" width="5.0" height="5.0" fill="#b64b34"/>
<rect x="451.60" y="121.50" width="5.0" height="5.0" fill="#b84932"/>
<rect x="451.60" y="108.50" width="5.0" height="5.0" fill="#c14229"/>
<rect x="451.60" y="106.50" width="5.0" height="5.0" fill="#c34127"/>
<rect x="451.60" y="104.00" width="5.0" height="5.0" fill="#c44026"/>
<rect x="451.60" y="101.25" width="5.0" height="5.0" fill="#c63e23"/>
<rect x="451.60" y="90.25" width="5.0" height="5.0" fill="#ce3719"/>
<path d="M222.0,83.10 L222.0,79.3 L454.0,79.3 L454.0,83.10" fill="none" stroke="#7a7a7a" stroke-width="1.2"/>
<text class="sm" x="338.0" y="71.1" font-size="11.4" text-anchor="middle" font-weight="normal" fill="#000" textLength="53.0" lengthAdjust="spacingAndGlyphs" >p = 0.026</text>
<path d="M144.5,297.80 L144.5,301.6 L376.5,301.6 L376.5,297.80" fill="none" stroke="#7a7a7a" stroke-width="1.2"/>
<text class="sm" x="260.2" y="317.1" font-size="11.4" text-anchor="middle" font-weight="normal" fill="#000" textLength="52.5" lengthAdjust="spacingAndGlyphs" >p &lt; 0.001</text>
<text class="sm" x="447.0" y="276.1" font-size="11.2" text-anchor="end" font-weight="normal" fill="#000" textLength="42.9" lengthAdjust="spacingAndGlyphs" >controls</text>
<text class="sm" x="447.0" y="294.4" font-size="11.2" text-anchor="end" font-weight="normal" fill="#000" textLength="24.0" lengthAdjust="spacingAndGlyphs" >HCM</text>
<text class="sm" x="447.0" y="312.4" font-size="11.2" text-anchor="end" font-weight="normal" fill="#000" textLength="46.8" lengthAdjust="spacingAndGlyphs" >quartiles</text>
<line x1="456.80" y1="272.70" x2="511.40" y2="272.70" stroke="#7a7a7a" stroke-width="1.1" />
<line x1="456.80" y1="291.10" x2="511.40" y2="291.10" stroke="#7a7a7a" stroke-width="1.1" />
<line x1="456.80" y1="309.30" x2="511.40" y2="309.30" stroke="#7a7a7a" stroke-width="1.1" />
<circle cx="484.2" cy="272.7" r="2.8" fill="#000"/>
<rect x="481.7" y="288.6" width="5" height="5" fill="#000"/>
<line x1="484.20" y1="306.80" x2="484.20" y2="311.80" stroke="#555" stroke-width="1" />
<text x="183.45" y="348.8" font-size="15.6" text-anchor="middle" font-weight="normal" fill="#000" textLength="133.5" lengthAdjust="spacingAndGlyphs" >diastole - systole</text>
<text x="183.1" y="366.6" font-size="15.6" text-anchor="middle" font-weight="normal" fill="#000" textLength="64.4" lengthAdjust="spacingAndGlyphs" >Controls</text>
<text x="414.7" y="348.8" font-size="15.6" text-anchor="middle" font-weight="normal" fill="#000" textLength="133.5" lengthAdjust="spacingAndGlyphs" >diastole - systole</text>
<text x="415.2" y="366.6" font-size="15.6" text-anchor="middle" font-weight="normal" fill="#000" textLength="35.7" lengthAdjust="spacingAndGlyphs" >HCM</text>
<line x1="67.50" y1="683.75" x2="531.50" y2="683.75" stroke="#e0e0e0" stroke-width="0.8" stroke-dasharray="1,1.5"/>
<line x1="67.50" y1="644.00" x2="531.50" y2="644.00" stroke="#e0e0e0" stroke-width="0.8" stroke-dasharray="1,1.5"/>
<line x1="67.50" y1="604.25" x2="531.50" y2="604.25" stroke="#e0e0e0" stroke-width="0.8" stroke-dasharray="1,1.5"/>
<line x1="67.50" y1="564.50" x2="531.50" y2="564.50" stroke="#e0e0e0" stroke-width="0.8" stroke-dasharray="1,1.5"/>
<line x1="67.50" y1="524.75" x2="531.50" y2="524.75" stroke="#e0e0e0" stroke-width="0.8" stroke-dasharray="1,1.5"/>
<line x1="67.50" y1="485.00" x2="531.50" y2="485.00" stroke="#e0e0e0" stroke-width="0.8" stroke-dasharray="1,1.5"/>
<line x1="67.50" y1="445.25" x2="531.50" y2="445.25" stroke="#e0e0e0" stroke-width="0.8" stroke-dasharray="1,1.5"/>
<line x1="120.90" y1="405.50" x2="120.90" y2="723.50" stroke="#e0e0e0" stroke-width="0.8" stroke-dasharray="1,1.5"/>
<line x1="263.50" y1="405.50" x2="263.50" y2="723.50" stroke="#e0e0e0" stroke-width="0.8" stroke-dasharray="1,1.5"/>
<line x1="370.50" y1="405.50" x2="370.50" y2="723.50" stroke="#e0e0e0" stroke-width="0.8" stroke-dasharray="1,1.5"/>
<line x1="477.50" y1="405.50" x2="477.50" y2="723.50" stroke="#e0e0e0" stroke-width="0.8" stroke-dasharray="1,1.5"/>
<line x1="67.50" y1="723.50" x2="74.50" y2="723.50" stroke="#6a6a6a" stroke-width="1" />
<line x1="524.50" y1="723.50" x2="531.50" y2="723.50" stroke="#6a6a6a" stroke-width="1" />
<line x1="67.50" y1="683.75" x2="74.50" y2="683.75" stroke="#6a6a6a" stroke-width="1" />
<line x1="524.50" y1="683.75" x2="531.50" y2="683.75" stroke="#6a6a6a" stroke-width="1" />
<line x1="67.50" y1="644.00" x2="74.50" y2="644.00" stroke="#6a6a6a" stroke-width="1" />
<line x1="524.50" y1="644.00" x2="531.50" y2="644.00" stroke="#6a6a6a" stroke-width="1" />
<line x1="67.50" y1="604.25" x2="74.50" y2="604.25" stroke="#6a6a6a" stroke-width="1" />
<line x1="524.50" y1="604.25" x2="531.50" y2="604.25" stroke="#6a6a6a" stroke-width="1" />
<line x1="67.50" y1="564.50" x2="74.50" y2="564.50" stroke="#6a6a6a" stroke-width="1" />
<line x1="524.50" y1="564.50" x2="531.50" y2="564.50" stroke="#6a6a6a" stroke-width="1" />
<line x1="67.50" y1="524.75" x2="74.50" y2="524.75" stroke="#6a6a6a" stroke-width="1" />
<line x1="524.50" y1="524.75" x2="531.50" y2="524.75" stroke="#6a6a6a" stroke-width="1" />
<line x1="67.50" y1="485.00" x2="74.50" y2="485.00" stroke="#6a6a6a" stroke-width="1" />
<line x1="524.50" y1="485.00" x2="531.50" y2="485.00" stroke="#6a6a6a" stroke-width="1" />
<line x1="67.50" y1="445.25" x2="74.50" y2="445.25" stroke="#6a6a6a" stroke-width="1" />
<line x1="524.50" y1="445.25" x2="531.50" y2="445.25" stroke="#6a6a6a" stroke-width="1" />
<line x1="67.50" y1="405.50" x2="74.50" y2="405.50" stroke="#6a6a6a" stroke-width="1" />
<line x1="524.50" y1="405.50" x2="531.50" y2="405.50" stroke="#6a6a6a" stroke-width="1" />
<line x1="120.90" y1="405.50" x2="120.90" y2="412.50" stroke="#6a6a6a" stroke-width="1.2" />
<line x1="120.90" y1="716.50" x2="120.90" y2="723.50" stroke="#6a6a6a" stroke-width="1.2" />
<line x1="263.50" y1="405.50" x2="263.50" y2="412.50" stroke="#6a6a6a" stroke-width="1.2" />
<line x1="263.50" y1="716.50" x2="263.50" y2="723.50" stroke="#6a6a6a" stroke-width="1.2" />
<line x1="370.50" y1="405.50" x2="370.50" y2="412.50" stroke="#6a6a6a" stroke-width="1.2" />
<line x1="370.50" y1="716.50" x2="370.50" y2="723.50" stroke="#6a6a6a" stroke-width="1.2" />
<line x1="477.50" y1="405.50" x2="477.50" y2="412.50" stroke="#6a6a6a" stroke-width="1.2" />
<line x1="477.50" y1="716.50" x2="477.50" y2="723.50" stroke="#6a6a6a" stroke-width="1.2" />
<rect x="67.5" y="405.5" width="464.0" height="318.0" fill="none" stroke="#8c8c8c" stroke-width="1"/>
<text x="57.6" y="728.95" font-size="17.5" text-anchor="end" font-weight="normal" fill="#000" textLength="19.6" lengthAdjust="spacingAndGlyphs" >10</text>
<text x="57.6" y="689.20" font-size="17.5" text-anchor="end" font-weight="normal" fill="#000" textLength="19.6" lengthAdjust="spacingAndGlyphs" >20</text>
<text x="57.6" y="649.45" font-size="17.5" text-anchor="end" font-weight="normal" fill="#000" textLength="19.6" lengthAdjust="spacingAndGlyphs" >30</text>
<text x="57.6" y="609.70" font-size="17.5" text-anchor="end" font-weight="normal" fill="#000" textLength="19.6" lengthAdjust="spacingAndGlyphs" >40</text>
<text x="57.6" y="569.95" font-size="17.5" text-anchor="end" font-weight="normal" fill="#000" textLength="19.6" lengthAdjust="spacingAndGlyphs" >50</text>
<text x="57.6" y="530.20" font-size="17.5" text-anchor="end" font-weight="normal" fill="#000" textLength="19.6" lengthAdjust="spacingAndGlyphs" >60</text>
<text x="57.6" y="490.45" font-size="17.5" text-anchor="end" font-weight="normal" fill="#000" textLength="19.6" lengthAdjust="spacingAndGlyphs" >70</text>
<text x="57.6" y="450.70" font-size="17.5" text-anchor="end" font-weight="normal" fill="#000" textLength="19.6" lengthAdjust="spacingAndGlyphs" >80</text>
<text x="57.6" y="410.95" font-size="17.5" text-anchor="end" font-weight="normal" fill="#000" textLength="19.6" lengthAdjust="spacingAndGlyphs" >90</text>
<text x="0" y="0" font-size="16.5" text-anchor="middle" textLength="151" lengthAdjust="spacingAndGlyphs" transform="translate(14.1,564.50) rotate(-90)">E2 angle (degrees)</text>
<text x="0.6" y="415.6" font-size="22" text-anchor="start" font-weight="bold" fill="#000" textLength="15.2" lengthAdjust="spacingAndGlyphs" >B</text>
<rect x="542.5" y="405.5" width="23" height="318.0" fill="url(#cb)" stroke="#555" stroke-width="1"/>
<line x1="88.40" y1="654.70" x2="88.40" y2="685.20" stroke="#7a7a7a" stroke-width="1.05" />
<line x1="84.40" y1="654.70" x2="92.40" y2="654.70" stroke="#5a5a5a" stroke-width="1.15" />
<line x1="84.40" y1="685.20" x2="92.40" y2="685.20" stroke="#5a5a5a" stroke-width="1.15" />
<line x1="85.60" y1="667.80" x2="91.20" y2="667.80" stroke="#5a5a5a" stroke-width="1.15" />
<line x1="153.40" y1="530.10" x2="153.40" y2="558.20" stroke="#7a7a7a" stroke-width="1.05" />
<line x1="149.40" y1="530.10" x2="157.40" y2="530.10" stroke="#5a5a5a" stroke-width="1.15" />
<line x1="149.40" y1="558.20" x2="157.40" y2="558.20" stroke="#5a5a5a" stroke-width="1.15" />
<line x1="150.60" y1="539.40" x2="156.20" y2="539.40" stroke="#5a5a5a" stroke-width="1.15" />
<line x1="231.60" y1="530.50" x2="231.60" y2="574.40" stroke="#7a7a7a" stroke-width="1.05" />
<line x1="227.60" y1="530.50" x2="235.60" y2="530.50" stroke="#5a5a5a" stroke-width="1.15" />
<line x1="227.60" y1="574.40" x2="235.60" y2="574.40" stroke="#5a5a5a" stroke-width="1.15" />
<line x1="228.80" y1="533.70" x2="234.40" y2="533.70" stroke="#5a5a5a" stroke-width="1.15" />
<line x1="295.90" y1="487.50" x2="295.90" y2="521.70" stroke="#7a7a7a" stroke-width="1.05" />
<line x1="291.90" y1="487.50" x2="299.90" y2="487.50" stroke="#5a5a5a" stroke-width="1.15" />
<line x1="291.90" y1="521.70" x2="299.90" y2="521.70" stroke="#5a5a5a" stroke-width="1.15" />
<line x1="293.10" y1="501.20" x2="298.70" y2="501.20" stroke="#5a5a5a" stroke-width="1.15" />
<line x1="338.40" y1="528.00" x2="338.40" y2="559.20" stroke="#7a7a7a" stroke-width="1.05" />
<line x1="334.40" y1="528.00" x2="342.40" y2="528.00" stroke="#5a5a5a" stroke-width="1.15" />
<line x1="334.40" y1="559.20" x2="342.40" y2="559.20" stroke="#5a5a5a" stroke-width="1.15" />
<line x1="335.60" y1="545.50" x2="341.20" y2="545.50" stroke="#5a5a5a" stroke-width="1.15" />
<line x1="402.70" y1="483.30" x2="402.70" y2="512.60" stroke="#7a7a7a" stroke-width="1.05" />
<line x1="398.70" y1="483.30" x2="406.70" y2="483.30" stroke="#5a5a5a" stroke-width="1.15" />
<line x1="398.70" y1="512.60" x2="406.70" y2="512.60" stroke="#5a5a5a" stroke-width="1.15" />
<line x1="399.90" y1="496.00" x2="405.50" y2="496.00" stroke="#5a5a5a" stroke-width="1.15" />
<line x1="445.70" y1="579.60" x2="445.70" y2="632.40" stroke="#7a7a7a" stroke-width="1.05" />
<line x1="441.70" y1="579.60" x2="449.70" y2="579.60" stroke="#5a5a5a" stroke-width="1.15" />
<line x1="441.70" y1="632.40" x2="449.70" y2="632.40" stroke="#5a5a5a" stroke-width="1.15" />
<line x1="442.90" y1="612.30" x2="448.50" y2="612.30" stroke="#5a5a5a" stroke-width="1.15" />
<line x1="510.20" y1="509.60" x2="510.20" y2="544.70" stroke="#7a7a7a" stroke-width="1.05" />
<line x1="506.20" y1="509.60" x2="514.20" y2="509.60" stroke="#5a5a5a" stroke-width="1.15" />
<line x1="506.20" y1="544.70" x2="514.20" y2="544.70" stroke="#5a5a5a" stroke-width="1.15" />
<line x1="507.40" y1="525.70" x2="513.00" y2="525.70" stroke="#5a5a5a" stroke-width="1.15" />
<line x1="102.90" y1="603.90" x2="139.00" y2="531.00" stroke="url(#g23)" stroke-width="1.15"/>
<line x1="102.90" y1="650.20" x2="139.00" y2="518.50" stroke="url(#g24)" stroke-width="1.15"/>
<line x1="102.90" y1="652.20" x2="139.00" y2="531.00" stroke="url(#g25)" stroke-width="1.15"/>
<line x1="102.90" y1="662.50" x2="139.00" y2="529.50" stroke="url(#g26)" stroke-width="1.15"/>
<line x1="102.90" y1="664.50" x2="139.00" y2="532.50" stroke="url(#g27)" stroke-width="1.15"/>
<line x1="102.90" y1="666.50" x2="139.00" y2="539.10" stroke="url(#g28)" stroke-width="1.15"/>
<line x1="102.90" y1="677.30" x2="139.00" y2="574.70" stroke="url(#g29)" stroke-width="1.15"/>
<line x1="102.90" y1="684.00" x2="139.00" y2="553.50" stroke="url(#g30)" stroke-width="1.15"/>
<line x1="102.90" y1="686.00" x2="139.00" y2="555.50" stroke="url(#g31)" stroke-width="1.15"/>
<line x1="102.90" y1="688.00" x2="139.00" y2="566.10" stroke="url(#g32)" stroke-width="1.15"/>
<line x1="102.90" y1="690.50" x2="139.00" y2="557.50" stroke="url(#g33)" stroke-width="1.15"/>
<circle cx="102.90" cy="690.50" r="2.7" fill="#263896"/>
<circle cx="102.90" cy="688.00" r="2.7" fill="#263896"/>
<circle cx="102.90" cy="686.00" r="2.7" fill="#263896"/>
<circle cx="102.90" cy="684.00" r="2.7" fill="#263896"/>
<circle cx="102.90" cy="677.30" r="2.7" fill="#293a95"/>
<circle cx="102.90" cy="666.50" r="2.7" fill="#2d3e94"/>
<circle cx="102.90" cy="664.50" r="2.7" fill="#2e3f94"/>
<circle cx="102.90" cy="662.50" r="2.7" fill="#2f3f94"/>
<circle cx="102.90" cy="652.20" r="2.7" fill="#344392"/>
<circle cx="102.90" cy="650.20" r="2.7" fill="#354492"/>
<circle cx="102.90" cy="603.90" r="2.7" fill="#585f80"/>
<circle cx="139.00" cy="574.70" r="2.7" fill="#7a686a"/>
<circle cx="139.00" cy="566.10" r="2.7" fill="#87635d"/>
<circle cx="139.00" cy="557.50" r="2.7" fill="#925c4f"/>
<circle cx="139.00" cy="555.50" r="2.7" fill="#955a4c"/>
<circle cx="139.00" cy="553.50" r="2.7" fill="#975949"/>
<circle cx="139.00" cy="539.10" r="2.7" fill="#a8513b"/>
<circle cx="139.00" cy="532.50" r="2.7" fill="#ae4e38"/>
<circle cx="139.00" cy="531.00" r="2.7" fill="#b04e37"/>
<circle cx="139.00" cy="529.50" r="2.7" fill="#b14d36"/>
<circle cx="139.00" cy="518.50" r="2.7" fill="#ba4830"/>
<line x1="245.60" y1="493.50" x2="281.40" y2="478.40" stroke="url(#g34)" stroke-width="1.15"/>
<line x1="245.60" y1="496.30" x2="281.40" y2="482.00" stroke="url(#g35)" stroke-width="1.15"/>
<line x1="245.60" y1="530.50" x2="281.40" y2="490.50" stroke="url(#g36)" stroke-width="1.15"/>
<line x1="245.60" y1="531.50" x2="281.40" y2="502.00" stroke="url(#g37)" stroke-width="1.15"/>
<line x1="245.60" y1="533.30" x2="281.40" y2="502.00" stroke="url(#g38)" stroke-width="1.15"/>
<line x1="245.60" y1="533.30" x2="281.40" y2="525.10" stroke="url(#g39)" stroke-width="1.15"/>
<line x1="245.60" y1="544.50" x2="281.40" y2="512.50" stroke="url(#g40)" stroke-width="1.15"/>
<line x1="245.60" y1="568.70" x2="281.40" y2="485.50" stroke="url(#g41)" stroke-width="1.15"/>
<line x1="245.60" y1="576.50" x2="281.40" y2="502.00" stroke="url(#g42)" stroke-width="1.15"/>
<line x1="245.60" y1="598.00" x2="281.40" y2="545.00" stroke="url(#g43)" stroke-width="1.15"/>
<line x1="245.60" y1="601.50" x2="281.40" y2="552.40" stroke="url(#g44)" stroke-width="1.15"/>
<rect x="243.10" y="599.00" width="5.0" height="5.0" fill="#5b607e"/>
<rect x="243.10" y="595.50" width="5.0" height="5.0" fill="#5e627c"/>
<rect x="243.10" y="574.00" width="5.0" height="5.0" fill="#77686c"/>
<rect x="243.10" y="566.20" width="5.0" height="5.0" fill="#836561"/>
<rect x="278.90" y="549.90" width="5.0" height="5.0" fill="#985848"/>
<rect x="278.90" y="542.50" width="5.0" height="5.0" fill="#a15440"/>
<rect x="243.10" y="542.00" width="5.0" height="5.0" fill="#a15440"/>
<rect x="243.10" y="530.80" width="5.0" height="5.0" fill="#ad4f38"/>
<rect x="243.10" y="529.00" width="5.0" height="5.0" fill="#af4e37"/>
<rect x="243.10" y="528.00" width="5.0" height="5.0" fill="#b04e37"/>
<rect x="278.90" y="522.60" width="5.0" height="5.0" fill="#b64b34"/>
<rect x="278.90" y="510.00" width="5.0" height="5.0" fill="#bf442b"/>
<rect x="278.90" y="499.50" width="5.0" height="5.0" fill="#c63e23"/>
<rect x="243.10" y="493.80" width="5.0" height="5.0" fill="#ca3b1e"/>
<rect x="243.10" y="491.00" width="5.0" height="5.0" fill="#cc391c"/>
<rect x="278.90" y="488.00" width="5.0" height="5.0" fill="#ce3719"/>
<rect x="278.90" y="483.00" width="5.0" height="5.0" fill="#d23414"/>
<rect x="278.90" y="479.50" width="5.0" height="5.0" fill="#d33312"/>
<rect x="278.90" y="475.90" width="5.0" height="5.0" fill="#d5310f"/>
<line x1="352.50" y1="495.50" x2="388.50" y2="486.80" stroke="url(#g45)" stroke-width="1.15"/>
<line x1="352.50" y1="515.60" x2="388.50" y2="471.70" stroke="url(#g46)" stroke-width="1.15"/>
<line x1="352.50" y1="524.60" x2="388.50" y2="479.50" stroke="url(#g47)" stroke-width="1.15"/>
<line x1="352.50" y1="537.60" x2="388.50" y2="525.60" stroke="url(#g48)" stroke-width="1.15"/>
<line x1="352.50" y1="545.90" x2="388.50" y2="495.60" stroke="url(#g49)" stroke-width="1.15"/>
<line x1="352.50" y1="551.10" x2="388.50" y2="509.60" stroke="url(#g50)" stroke-width="1.15"/>
<line x1="352.50" y1="553.60" x2="388.50" y2="512.80" stroke="url(#g51)" stroke-width="1.15"/>
<line x1="352.50" y1="560.50" x2="388.50" y2="482.00" stroke="url(#g52)" stroke-width="1.15"/>
<line x1="352.50" y1="580.70" x2="388.50" y2="481.00" stroke="url(#g53)" stroke-width="1.15"/>
<line x1="352.50" y1="580.70" x2="388.50" y2="562.70" stroke="url(#g54)" stroke-width="1.15"/>
<path d="M352.50,577.90 L355.10,582.50 L349.90,582.50Z" fill="#716870"/>
<path d="M388.50,559.90 L391.10,564.50 L385.90,564.50Z" fill="#8c6057"/>
<path d="M352.50,557.70 L355.10,562.30 L349.90,562.30Z" fill="#8f5f54"/>
<path d="M352.50,550.80 L355.10,555.40 L349.90,555.40Z" fill="#97594a"/>
<path d="M352.50,548.30 L355.10,552.90 L349.90,552.90Z" fill="#9a5747"/>
<path d="M352.50,543.10 L355.10,547.70 L349.90,547.70Z" fill="#a05541"/>
<path d="M352.50,534.80 L355.10,539.40 L349.90,539.40Z" fill="#a9513a"/>
<path d="M388.50,522.80 L391.10,527.40 L385.90,527.40Z" fill="#b54b34"/>
<path d="M352.50,521.80 L355.10,526.40 L349.90,526.40Z" fill="#b64b34"/>
<path d="M352.50,512.80 L355.10,517.40 L349.90,517.40Z" fill="#bc462e"/>
<path d="M388.50,510.00 L391.10,514.60 L385.90,514.60Z" fill="#be442c"/>
<path d="M388.50,506.80 L391.10,511.40 L385.90,511.40Z" fill="#c14329"/>
<path d="M388.50,492.80 L391.10,497.40 L385.90,497.40Z" fill="#cb3a1e"/>
<path d="M352.50,492.70 L355.10,497.30 L349.90,497.30Z" fill="#cb3a1e"/>
<path d="M388.50,484.00 L391.10,488.60 L385.90,488.60Z" fill="#d13516"/>
<path d="M388.50,479.20 L391.10,483.80 L385.90,483.80Z" fill="#d33312"/>
<path d="M388.50,478.20 L391.10,482.80 L385.90,482.80Z" fill="#d43211"/>
<path d="M388.50,476.70 L391.10,481.30 L385.90,481.30Z" fill="#d43210"/>
<path d="M388.50,468.90 L391.10,473.50 L385.90,473.50Z" fill="#d72f0a"/>
<line x1="459.10" y1="571.20" x2="495.40" y2="493.50" stroke="url(#g55)" stroke-width="1.15"/>
<line x1="459.10" y1="576.80" x2="495.40" y2="508.30" stroke="url(#g56)" stroke-width="1.15"/>
<line x1="459.10" y1="579.90" x2="495.40" y2="537.90" stroke="url(#g57)" stroke-width="1.15"/>
<line x1="459.10" y1="604.90" x2="495.40" y2="509.90" stroke="url(#g58)" stroke-width="1.15"/>
<line x1="459.10" y1="611.20" x2="495.40" y2="524.60" stroke="url(#g59)" stroke-width="1.15"/>
<line x1="459.10" y1="614.00" x2="495.40" y2="544.00" stroke="url(#g60)" stroke-width="1.15"/>
<line x1="459.10" y1="630.60" x2="495.40" y2="574.50" stroke="url(#g61)" stroke-width="1.15"/>
<line x1="459.10" y1="632.80" x2="495.40" y2="544.00" stroke="url(#g62)" stroke-width="1.15"/>
<line x1="459.10" y1="639.80" x2="495.40" y2="537.90" stroke="url(#g63)" stroke-width="1.15"/>
<path d="M459.10,642.60 L461.70,638.00 L456.50,638.00Z" fill="#3b4990"/>
<path d="M459.10,635.60 L461.70,631.00 L456.50,631.00Z" fill="#404d8d"/>
<path d="M459.10,633.40 L461.70,628.80 L456.50,628.80Z" fill="#424e8d"/>
<path d="M459.10,616.80 L461.70,612.20 L456.50,612.20Z" fill="#505985"/>
<path d="M459.10,614.00 L461.70,609.40 L456.50,609.40Z" fill="#525b83"/>
<path d="M459.10,607.70 L461.70,603.10 L456.50,603.10Z" fill="#575f80"/>
<path d="M459.10,582.70 L461.70,578.10 L456.50,578.10Z" fill="#72686f"/>
<path d="M459.10,579.60 L461.70,575.00 L456.50,575.00Z" fill="#77686c"/>
<path d="M495.40,577.30 L498.00,572.70 L492.80,572.70Z" fill="#7a686a"/>
<path d="M459.10,574.00 L461.70,569.40 L456.50,569.40Z" fill="#7f6665"/>
<path d="M495.40,546.80 L498.00,542.20 L492.80,542.20Z" fill="#a2543f"/>
<path d="M495.40,540.70 L498.00,536.10 L492.80,536.10Z" fill="#a9513b"/>
<path d="M495.40,527.40 L498.00,522.80 L492.80,522.80Z" fill="#b64b34"/>
<path d="M495.40,512.70 L498.00,508.10 L492.80,508.10Z" fill="#c0432a"/>
<path d="M495.40,511.10 L498.00,506.50 L492.80,506.50Z" fill="#c24228"/>
<path d="M495.40,496.30 L498.00,491.70 L492.80,491.70Z" fill="#cc391c"/>
<path d="M138.8,449.40 L138.8,445.6 L388.5,445.6 L388.5,449.40" fill="none" stroke="#7a7a7a" stroke-width="1.2"/>
<text class="sm" x="263.4" y="441.7" font-size="11.4" text-anchor="middle" font-weight="normal" fill="#000" textLength="64.8" lengthAdjust="spacingAndGlyphs" >p = 0.0030†</text>
<path d="M138.8,469.40 L138.8,465.6 L281.4,465.6 L281.4,469.40" fill="none" stroke="#7a7a7a" stroke-width="1.2"/>
<text class="sm" x="210.2" y="462.1" font-size="11.4" text-anchor="middle" font-weight="normal" fill="#000" textLength="64.8" lengthAdjust="spacingAndGlyphs" >p = 0.0060†</text>
<path d="M352.3,660.70 L352.3,664.5 L459.4,664.5 L459.4,660.70" fill="none" stroke="#7a7a7a" stroke-width="1.2"/>
<text class="sm" x="406.0" y="675.9" font-size="11.4" text-anchor="middle" font-weight="normal" fill="#000" textLength="64.9" lengthAdjust="spacingAndGlyphs" >p = 0.0022*</text>
<path d="M245.5,692.30 L245.5,696.1 L459.4,696.1 L459.4,692.30" fill="none" stroke="#7a7a7a" stroke-width="1.2"/>
<text class="sm" x="353.0" y="707.0" font-size="11.4" text-anchor="middle" font-weight="normal" fill="#000" textLength="64.9" lengthAdjust="spacingAndGlyphs" >p = 0.0028*</text>
<text class="sm" x="121.1" y="745.8" font-size="11.6" text-anchor="middle" font-weight="normal" fill="#000" textLength="84.8" lengthAdjust="spacingAndGlyphs" >diastole-systole</text>
<text class="sm" x="121.1" y="758.0" font-size="11.4" text-anchor="middle" font-weight="normal" fill="#000" textLength="44.4" lengthAdjust="spacingAndGlyphs" >Controls</text>
<text class="sm" x="263.5" y="745.8" font-size="11.6" text-anchor="middle" font-weight="normal" fill="#000" textLength="84.8" lengthAdjust="spacingAndGlyphs" >diastole-systole</text>
<text class="sm" x="263.5" y="758.0" font-size="11.4" text-anchor="middle" font-weight="normal" fill="#000" textLength="70.3" lengthAdjust="spacingAndGlyphs" >HCM: H+LG+</text>
<text class="sm" x="370.3" y="745.8" font-size="11.6" text-anchor="middle" font-weight="normal" fill="#000" textLength="84.8" lengthAdjust="spacingAndGlyphs" >diastole-systole</text>
<text class="sm" x="370.3" y="758.0" font-size="11.4" text-anchor="middle" font-weight="normal" fill="#000" textLength="63.6" lengthAdjust="spacingAndGlyphs" >HCM: H+LG-</text>
<text class="sm" x="477.8" y="745.8" font-size="11.6" text-anchor="middle" font-weight="normal" fill="#000" textLength="84.8" lengthAdjust="spacingAndGlyphs" >diastole-systole</text>
<text class="sm" x="477.8" y="758.0" font-size="11.4" text-anchor="middle" font-weight="normal" fill="#000" textLength="61.0" lengthAdjust="spacingAndGlyphs" >HCM: H-LG-</text>
</svg></div>
</body></html>
